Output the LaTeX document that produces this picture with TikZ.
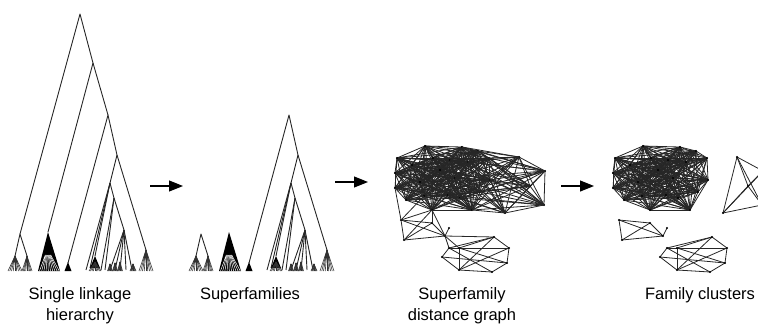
\documentclass[tikz,border=0pt]{standalone}
\usepackage{fontspec}
\setmainfont{Liberation Sans}
\usetikzlibrary{arrows.meta}
\newcommand\myhtri[3]{%
  \fill[black!85] (#1,#2) -- ({#1-0.4*#3},{#2+0.4*(271-#2)}) -- ({#1+0.4*#3},{#2+0.4*(271-#2)}) -- cycle;
  \foreach \k in {0,...,8} {\draw[line width=0.6pt, black!80] (#1,#2) -- ({#1-#3+#3*\k/4},271);}%
}
\newcommand\mysubL{%
  \draw[br] (15,256) -- (20,234) -- (27,256);
  \myhtri{15}{256}{7}\myhtri{27}{256}{5}%
}
\newcommand\mysubF{%
  \fill[black] (48,232) -- (38,271) -- (60,271) -- cycle;
  \foreach \k in {0,...,9} {\draw[white, line width=0.5pt] ({45.3+\k*0.6},255) -- ({39.5+\k*2.2},271);}
  \fill[white] (44.5,258) circle (0.8);%
}
\newcommand\mysubR{%
  \draw[br] (68,263) -- (108,115) -- (117,155) -- (146,250);
  \fill[black] (68,262) -- (64.5,271) -- (71.5,271) -- cycle;
  \myhtri{146}{250}{7}
  \draw[br] (117,155) -- (110,183);
  \draw[br] (110,183) -- (86,270);
  \draw[br] (110,183) -- (90,268);
  \draw[br] (110,183) -- (95,256);
  \fill[black] (95,256) -- (90,268) -- (100,268) -- cycle;
  \myhtri{95}{262}{6}
  \draw[br] (110,183) -- (114,198);
  \draw[br] (114,198) -- (101,270);
  \draw[br] (114,198) -- (105,270);
  \draw[br] (114,198) -- (124,230);
  \foreach \x in {110,115,120,126,132} {\draw[br] (124,230) -- (\x,270);}
  \myhtri{110}{264}{2.5}\myhtri{115}{263}{2.5}\myhtri{120}{262}{2.5}\myhtri{133}{264}{3}%
}
% graph node positions (superfamily coordinates)
\newcommand\mkgraph[1]{%
  \coordinate (#1g1) at (397,158);
  \coordinate (#1g2) at (395,173);
  \coordinate (#1g3) at (395,188);
  \coordinate (#1g4) at (425,146);
  \coordinate (#1g5) at (462,147);
  \coordinate (#1g6) at (489,158);
  \coordinate (#1g7) at (490,180);
  \coordinate (#1g8) at (472,210);
  \coordinate (#1g9) at (432,210);
  \coordinate (#1g10) at (440,170);
  \coordinate (#1g11) at (455,178);
  \coordinate (#1g12) at (468,162);
  \coordinate (#1g13) at (420,182);
  \coordinate (#1g14) at (448,195);
  \coordinate (#1g15) at (412,165);
  \coordinate (#1g16) at (480,192);
  \coordinate (#1g17) at (433,158);
  \coordinate (#1g18) at (460,198);
  \coordinate (#1g19) at (406,200);
  \coordinate (#1g20) at (478,151);
  \coordinate (#1g21) at (450,160);
  \coordinate (#1g22) at (424,196);
  \coordinate (#1t1) at (519,157);
  \coordinate (#1t2) at (545,171);
  \coordinate (#1t3) at (544,205);
  \coordinate (#1t4) at (505,213);
  \coordinate (#1t5) at (530,186);
  \coordinate (#1r1) at (401,220);
  \coordinate (#1r2) at (432,223);
  \coordinate (#1r3) at (445,236);
  \coordinate (#1r4) at (404,240);
  \coordinate (#1r5) at (449,228);
  \coordinate (#1c1) at (449,248);
  \coordinate (#1c2) at (442,257);
  \coordinate (#1c3) at (459,270);
  \coordinate (#1c4) at (492,272);
  \coordinate (#1c5) at (507,263);
  \coordinate (#1c6) at (509,248);
  \coordinate (#1c7) at (494,237);
  \coordinate (#1c8) at (459,248);
  \foreach \i in {1,...,21} {\pgfmathtruncatemacro\kk{\i+1}\foreach \j in {\kk,...,22} {\draw[ed] (#1g\i) -- (#1g\j);}}
  \foreach \a/\b in {1/2,1/4,2/4,3/4,1/3,2/3,3/5,4/5,1/5,2/5} {\draw[ed] (#1t\a) -- (#1t\b);}
  \foreach \a/\b in {1/2,1/4,2/3,3/4,1/3,2/4,3/5} {\draw[ed] (#1r\a) -- (#1r\b);}
  \foreach \a/\b in {2/1,1/8,8/6,2/3,3/4,4/5,5/6,6/7,7/8,1/7,8/3,8/5,2/5,3/6,3/7,1/4} {\draw[ed] (#1c\a) -- (#1c\b);}
  \foreach \n in {g1,g2,g3,g4,g5,g6,g7,g8,g9,g10,g11,g12,g13,g14,g15,g16,g17,g18,g19,g20,g21,g22,t1,t2,t3,t4,t5,r1,r2,r3,r4,r5,c1,c2,c3,c4,c5,c6,c7,c8} {\fill (#1\n) circle (1.1);}%
}
\begin{document}
\begin{tikzpicture}[x=1pt,y=-1pt,line join=round,
  br/.style={line width=0.9pt, draw=black!85},
  ed/.style={line width=0.8pt, draw=black!85},
  arr/.style={line width=1.1pt, -{Triangle[length=14pt,width=11pt]}},
  lab/.style={font=\fontsize{16.5}{21}\selectfont, align=center, anchor=north, inner sep=0pt}]
\useasboundingbox (0,0) rectangle (758,327);
\clip (0,0) rectangle (758,327);
% tree 1
\draw[br] (20,234) -- (80,14) -- (93,63) -- (108,115);
\draw[br] (93,63) -- (48,232);
\mysubL \mysubF \mysubR
% tree 2
\begin{scope}[shift={(181,0)}]
  \mysubL \mysubF \mysubR
\end{scope}
% superfamily distance graph
\mkgraph{s}
\foreach \a in {g5,g6,g7,g8,g11,g12,g16,g18,g14,g20,g21}
  {\foreach \b in {t1,t2,t3,t4,t5} {\draw[ed] (s\a) -- (s\b);}}
\foreach \a/\b in {g9/r1,g9/r4,g9/r3,g9/r2,g3/r1,g22/r1,r3/c8,r3/c7,r3/c1}
  {\draw[ed] (s\a) -- (s\b);}
% family clusters
\begin{scope}[shift={(218,0)}]
  \mkgraph{f}
\end{scope}
% arrows
\coordinate (a1s) at (150,186); \coordinate (a1e) at (183,186);
\coordinate (a2s) at (335,182); \coordinate (a2e) at (368,182);
\coordinate (a3s) at (561,186); \coordinate (a3e) at (594,186);
\draw[arr] (a1s) -- (a1e);
\draw[arr] (a2s) -- (a2e);
\draw[arr] (a3s) -- (a3e);
% labels
\node[lab] (l1) at (80,287) {Single linkage\\hierarchy};
\node[lab] (l2) at (250,287) {Superfamilies};
\node[lab] (l3) at (462,287) {Superfamily\\distance graph};
\node[lab] (l4) at (700,287) {Family clusters};
\end{tikzpicture}
\end{document}
